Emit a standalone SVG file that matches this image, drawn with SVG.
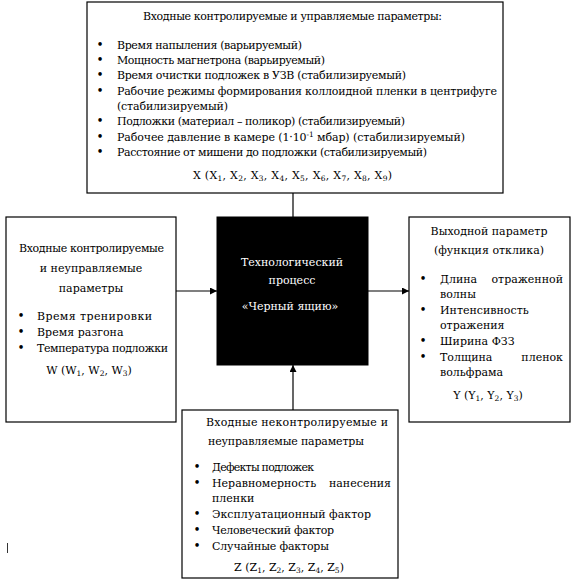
<svg xmlns="http://www.w3.org/2000/svg" width="576" height="586" viewBox="0 0 576 586">
<defs>
<marker id="ah" viewBox="0 0 10 10" refX="10" refY="5" markerWidth="7" markerHeight="7" markerUnits="userSpaceOnUse" orient="auto"><path d="M0,0 L10,5 L0,10 z" fill="#000"/></marker>
<style>
.box{fill:#fff;stroke:#000;stroke-width:1.2}
.blk{fill:#000;stroke:#000}
text{font-family:"DejaVu Serif","Liberation Serif","Times New Roman",serif;font-size:11px;fill:#000}
.c{text-anchor:middle}
.w{fill:#fff}
.b{text-anchor:middle;font-size:12px}
.ln{stroke:#000;stroke-width:1.2;fill:none}
.s{font-size:7.5px}
</style>
</defs>
<rect width="576" height="586" fill="#fff"/>
<g id="connectors">
<line class="ln" x1="293" y1="193" x2="293" y2="217"/>
<line class="ln" x1="176" y1="291" x2="217" y2="291" marker-end="url(#ah)"/>
<line class="ln" x1="368" y1="291" x2="409" y2="291" marker-end="url(#ah)"/>
<line class="ln" x1="293" y1="410" x2="293" y2="365" marker-end="url(#ah)"/>
</g>
<g id="top">
<rect class="box" x="87" y="2" width="416" height="191"/>
<text x="143" y="20" textLength="299">Входные контролируемые и управляемые параметры:</text>
<text class="b" x="100" y="49">•</text><text x="117" y="49" textLength="185">Время напыления (варьируемый)</text>
<text class="b" x="100" y="64">•</text><text x="117" y="64" textLength="208">Мощность магнетрона (варьируемый)</text>
<text class="b" x="100" y="79">•</text><text x="117" y="79" textLength="289">Время очистки подложек в УЗВ (стабилизируемый)</text>
<text class="b" x="100" y="95">•</text><text x="117" y="95" textLength="380">Рабочие режимы формирования коллоидной пленки в центрифуге</text>
<text x="117" y="110" textLength="111">(стабилизируемый)</text>
<text class="b" x="100" y="125">•</text><text x="117" y="125" textLength="288">Подложки (материал – поликор) (стабилизируемый)</text>
<text class="b" x="100" y="141">•</text><text x="117" y="141" textLength="348">Рабочее давление в камере (1·10<tspan class="s" dy="-4">-1</tspan><tspan dy="4"> мбар) (стабилизируемый)</tspan></text>
<text class="b" x="100" y="156">•</text><text x="117" y="156" textLength="310">Расстояние от мишени до подложки (стабилизируемый)</text>
<text x="193" y="179" textLength="199">X (X<tspan class="s" dy="2">1</tspan><tspan dy="-2">, X</tspan><tspan class="s" dy="2">2</tspan><tspan dy="-2">, X</tspan><tspan class="s" dy="2">3</tspan><tspan dy="-2">, X</tspan><tspan class="s" dy="2">4</tspan><tspan dy="-2">, X</tspan><tspan class="s" dy="2">5</tspan><tspan dy="-2">, X</tspan><tspan class="s" dy="2">6</tspan><tspan dy="-2">, X</tspan><tspan class="s" dy="2">7</tspan><tspan dy="-2">, X</tspan><tspan class="s" dy="2">8</tspan><tspan dy="-2">, X</tspan><tspan class="s" dy="2">9</tspan><tspan dy="-2">)</tspan></text>
</g>
<g id="left">
<rect class="box" x="6" y="217" width="170" height="205"/>
<text x="19" y="252" textLength="145">Входные контролируемые</text>
<text class="c" x="91" y="272">и неуправляемые</text>
<text class="c" x="91" y="292">параметры</text>
<text class="b" x="21" y="320">•</text><text x="37" y="320" textLength="115">Время тренировки</text>
<text class="b" x="21" y="336">•</text><text x="37" y="336">Время разгона</text>
<text class="b" x="21" y="352">•</text><text x="37" y="352" textLength="131">Температура подложки</text>
<text class="c" x="89" y="374">W (W<tspan class="s" dy="2">1</tspan><tspan dy="-2">, W</tspan><tspan class="s" dy="2">2</tspan><tspan dy="-2">, W</tspan><tspan class="s" dy="2">3</tspan><tspan dy="-2">)</tspan></text>
</g>
<g id="process">
<rect class="blk" x="217" y="217" width="151" height="148"/>
<text class="w c" x="292" y="266">Технологический</text>
<text class="w c" x="292" y="284">процесс</text>
<text class="w c" x="290" y="310">«Черный ящию»</text>
</g>
<g id="right">
<rect class="box" x="409" y="217" width="161" height="205"/>
<text class="c" x="489" y="235">Выходной параметр</text>
<text class="c" x="489" y="254">(функция отклика)</text>
<text class="b" x="423" y="283">•</text><text x="440" y="283">Длина</text><text x="563" y="283" text-anchor="end">отраженной</text>
<text x="440" y="298">волны</text>
<text class="b" x="423" y="314">•</text><text x="440" y="314">Интенсивность</text>
<text x="440" y="329">отражения</text>
<text class="b" x="423" y="345">•</text><text x="440" y="345">Ширина ФЗЗ</text>
<text class="b" x="423" y="361">•</text><text x="440" y="361">Толщина</text><text x="563" y="361" text-anchor="end">пленок</text>
<text x="440" y="376">вольфрама</text>
<text class="c" x="488" y="399">Y (Y<tspan class="s" dy="2">1</tspan><tspan dy="-2">, Y</tspan><tspan class="s" dy="2">2</tspan><tspan dy="-2">, Y</tspan><tspan class="s" dy="2">3</tspan><tspan dy="-2">)</tspan></text>
</g>
<g id="bottom">
<rect class="box" x="182" y="410" width="216" height="168"/>
<text x="206" y="426" textLength="182">Входные неконтролируемые и</text>
<text x="208" y="445" textLength="156">неуправляемые параметры</text>
<text class="b" x="197" y="471">•</text><text x="212" y="471" textLength="102">Дефекты подложек</text>
<text class="b" x="197" y="487">•</text><text x="212" y="487">Неравномерность</text><text x="391" y="487" text-anchor="end">нанесения</text>
<text x="212" y="502">пленки</text>
<text class="b" x="197" y="518">•</text><text x="212" y="518" textLength="159">Эксплуатационный фактор</text>
<text class="b" x="197" y="534">•</text><text x="212" y="534" textLength="122">Человеческий фактор</text>
<text class="b" x="197" y="550">•</text><text x="212" y="550" textLength="117">Случайные факторы</text>
<text class="c" x="289" y="571">Z (Z<tspan class="s" dy="2">1</tspan><tspan dy="-2">, Z</tspan><tspan class="s" dy="2">2</tspan><tspan dy="-2">, Z</tspan><tspan class="s" dy="2">3</tspan><tspan dy="-2">, Z</tspan><tspan class="s" dy="2">4</tspan><tspan dy="-2">, Z</tspan><tspan class="s" dy="2">5</tspan><tspan dy="-2">)</tspan></text>
</g>
<line x1="7.5" y1="543" x2="7.5" y2="553" stroke="#000" stroke-width="0.8"/>
</svg>
